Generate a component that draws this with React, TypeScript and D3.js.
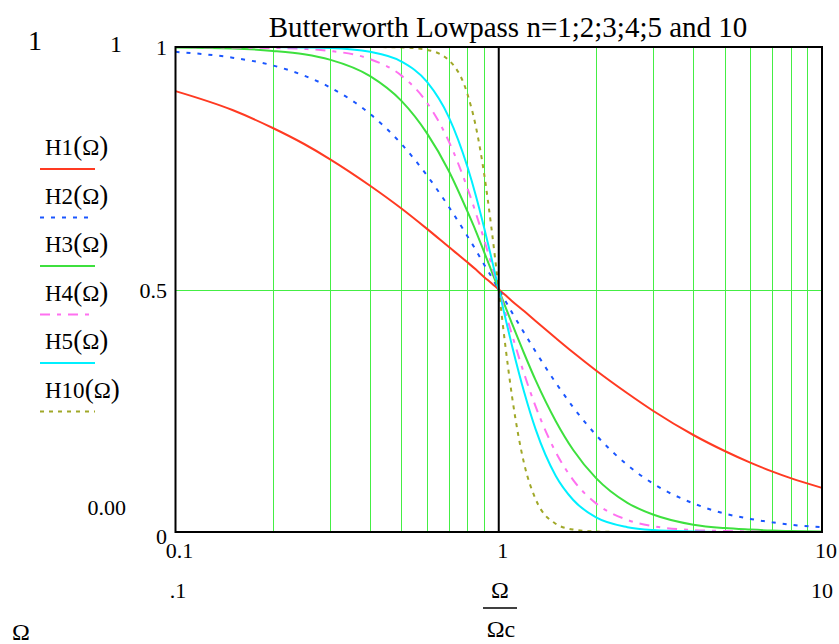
import React from 'react'
import * as d3 from 'd3'

// normalized frequency samples (Ω/Ωc)
const omega = [0.1, 0.15, 0.2, 0.25, 0.3, 0.4, 0.5, 0.6, 0.7, 0.8, 0.85, 0.9, 0.95, 1, 1.05, 1.1, 1.2, 1.3, 1.5, 1.7, 2, 2.5, 3, 4, 5, 6, 7, 8, 10]

const h1 = [0.909, 0.87, 0.833, 0.8, 0.769, 0.714, 0.667, 0.625, 0.588, 0.556, 0.541, 0.526, 0.513, 0.5, 0.488, 0.476, 0.455, 0.435, 0.4, 0.37, 0.333, 0.286, 0.25, 0.2, 0.167, 0.143, 0.125, 0.111, 0.091]
const h2 = [0.99, 0.978, 0.962, 0.941, 0.917, 0.862, 0.8, 0.735, 0.671, 0.61, 0.581, 0.552, 0.526, 0.5, 0.476, 0.452, 0.41, 0.372, 0.308, 0.257, 0.2, 0.138, 0.1, 0.059, 0.038, 0.027, 0.02, 0.015, 0.01]
const h3 = [0.999, 0.997, 0.992, 0.985, 0.974, 0.94, 0.889, 0.822, 0.745, 0.661, 0.62, 0.578, 0.538, 0.5, 0.463, 0.429, 0.367, 0.313, 0.229, 0.169, 0.111, 0.06, 0.036, 0.015, 0.008, 0.005, 0.003, 0.002, 0.001]
const h4 = [1, 0.999, 0.998, 0.996, 0.992, 0.975, 0.941, 0.885, 0.806, 0.709, 0.657, 0.604, 0.551, 0.5, 0.451, 0.406, 0.325, 0.259, 0.165, 0.107, 0.059, 0.025, 0.012, 0.004, 0.002, 0.001, 0, 0, 0]
const h5 = [1, 1, 1, 0.999, 0.998, 0.99, 0.97, 0.928, 0.856, 0.753, 0.693, 0.629, 0.564, 0.5, 0.439, 0.383, 0.287, 0.212, 0.116, 0.066, 0.03, 0.01, 0.004, 0.001, 0, 0, 0, 0, 0]
const h10 = [1, 1, 1, 1, 1, 1, 0.999, 0.994, 0.973, 0.903, 0.835, 0.741, 0.625, 0.5, 0.38, 0.278, 0.139, 0.068, 0.017, 0.005, 0.001, 0, 0, 0, 0, 0, 0, 0, 0]

const seriesNames = ['H1', 'H2', 'H3', 'H4', 'H5', 'H10']
const seriesValues = [h1, h2, h3, h4, h5, h10]
const seriesColors = ['#ff3a22', '#1a56ff', '#3ee03e', '#ff70f0', '#00f0ff', '#a0a828']
const seriesDash = ['', '4,7', '', '10,7,4,7', '', '4,5']

const gridX = [0.2, 0.3, 0.4, 0.5, 0.6, 0.7, 0.8, 0.9, 2, 3, 4, 5, 6, 7, 8, 9]
const xTicks = [0.1, 1, 10]
const yTicks = [0, 0.5, 1]

const title = 'Butterworth Lowpass n=1;2;3;4;5 and 10'
const font = '"Liberation Serif", "Times New Roman", serif'

const W = 839
const H = 644
const left = 175.5
const right = 822
const top = 47
const bottom = 532

const snap = (v: number) => Math.round(v) + 0.5

const App = () => {
  const x = d3.scaleLog().domain([0.1, 10]).range([left, right])
  const y = d3.scaleLinear().domain([0, 1]).range([bottom, top])

  const line = d3.line<number>()
    .x((_, i) => x(omega[i]))
    .y((d) => y(d))
    .curve(d3.curveMonotoneX)

  return (
    <svg width={W} height={H} style={{ position: 'absolute', left: 0, top: 0 }} fontFamily={font}>
      <rect width={W} height={H} fill='#fff' />

      {/* grid */}
      {gridX.map((g) => (
        <line key={g} x1={snap(x(g))} x2={snap(x(g))} y1={top} y2={bottom} stroke='#44ee44' strokeWidth={1} />
      ))}
      <line x1={left} x2={right} y1={snap(y(0.5))} y2={snap(y(0.5))} stroke='#44ee44' strokeWidth={1} />

      {/* curves */}
      {seriesValues.map((vals, i) => (
        <path key={seriesNames[i]} d={line(vals) || ''} fill='none' stroke={seriesColors[i]}
          strokeWidth={2} strokeDasharray={seriesDash[i] || undefined} />
      ))}

      {/* frame */}
      <rect x={left} y={top} width={right - left} height={bottom - top} fill='none' stroke='#000' strokeWidth={2} />
      <line x1={x(1)} x2={x(1)} y1={top} y2={bottom} stroke='#000' strokeWidth={2} />

      {/* title */}
      <text x={508} y={37} fontSize={29} textAnchor='middle'>{title}</text>

      {/* corner labels */}
      <text x={35} y={50} fontSize={28} textAnchor='middle'>1</text>
      <text x={116} y={52} fontSize={24} textAnchor='middle'>1</text>

      {/* y tick labels */}
      {yTicks.map((t) => (
        <text key={t} x={167} y={y(t) + (t === 0 ? 12 : 8)} fontSize={22} textAnchor='end'>{t}</text>
      ))}
      <text x={126} y={515} fontSize={22} textAnchor='end'>0.00</text>

      {/* x tick labels */}
      {xTicks.map((t) => (
        <text key={t} x={x(t) + 4} y={558} fontSize={22} textAnchor='middle'>{t}</text>
      ))}
      <text x={178} y={598} fontSize={22} textAnchor='middle'>.1</text>
      <text x={833} y={598} fontSize={22} textAnchor='end'>10</text>

      {/* x axis label */}
      <text x={500} y={598} fontSize={24} textAnchor='middle'>Ω</text>
      <line x1={483} x2={517} y1={608} y2={608} stroke='#000' strokeWidth={1.5} />
      <text x={501} y={637} fontSize={24} textAnchor='middle'>Ωc</text>
      <text x={21} y={640} fontSize={24} textAnchor='middle'>Ω</text>

      {/* legend */}
      {seriesNames.map((n, i) => {
        const ty = 155 + i * 48.5
        return (
          <g key={n}>
            <text x={45} y={ty} fontSize={23}>
              {n}
              <tspan fontSize={27}>(</tspan>
              Ω
              <tspan fontSize={27}>)</tspan>
            </text>
            <line x1={40} x2={95} y1={ty + 14} y2={ty + 14} stroke={seriesColors[i]} strokeWidth={2}
              strokeDasharray={seriesDash[i] || undefined} />
          </g>
        )
      })}
    </svg>
  )
}

export default App
